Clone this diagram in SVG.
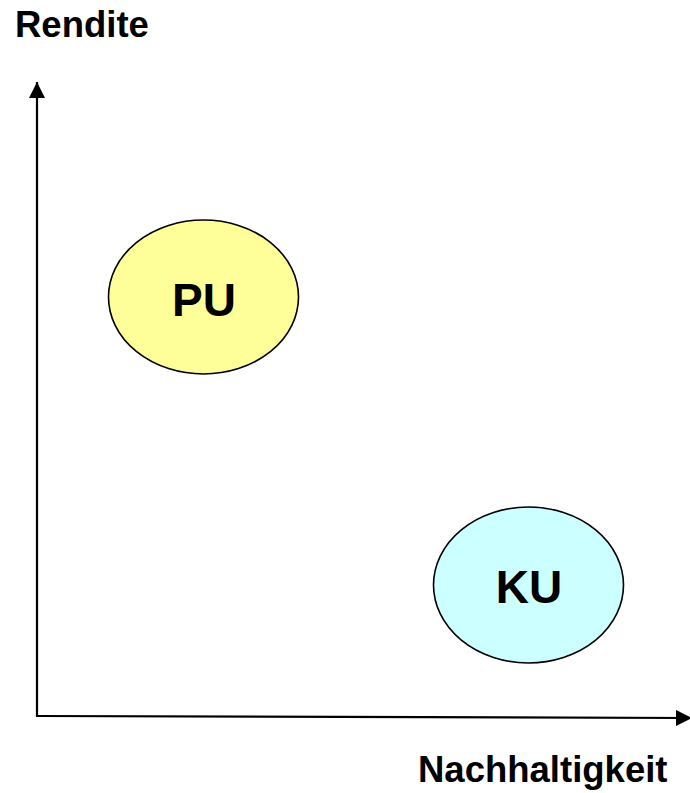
<svg xmlns="http://www.w3.org/2000/svg" width="690" height="793" viewBox="0 0 690 793">
<style>
.lbl{font-family:"Liberation Sans",Arial,sans-serif;font-weight:bold;fill:#000}
.node{stroke:#000;stroke-width:1.6}
.axis{stroke:#000;stroke-width:2.2;fill:none}
</style>
<defs>
<marker id="arr" viewBox="0 0 16 16" refX="16" refY="8" markerWidth="16" markerHeight="16" markerUnits="userSpaceOnUse" orient="auto">
<path d="M0,0 L16,8 L0,16 Z" fill="#000"/>
</marker>
</defs>
<rect width="690" height="793" fill="#fff"/>
<g id="connectors">
<line class="axis" x1="37" y1="717" x2="37" y2="82" marker-end="url(#arr)"/>
<line class="axis" x1="37" y1="716" x2="692" y2="718" marker-end="url(#arr)"/>
</g>
<text class="lbl" x="15" y="37" font-size="36.5">Rendite</text>
<text class="lbl" x="418" y="782" font-size="36.5">Nachhaltigkeit</text>
<g id="PU">
<ellipse class="node" cx="203.5" cy="297" rx="95" ry="77" fill="#FFFF99"/>
<text class="lbl" x="204" y="316" font-size="46" text-anchor="middle">PU</text>
</g>
<g id="KU">
<ellipse class="node" cx="528.5" cy="585" rx="95" ry="78" fill="#CCFFFF"/>
<text class="lbl" x="529" y="603" font-size="46" text-anchor="middle">KU</text>
</g>
</svg>
